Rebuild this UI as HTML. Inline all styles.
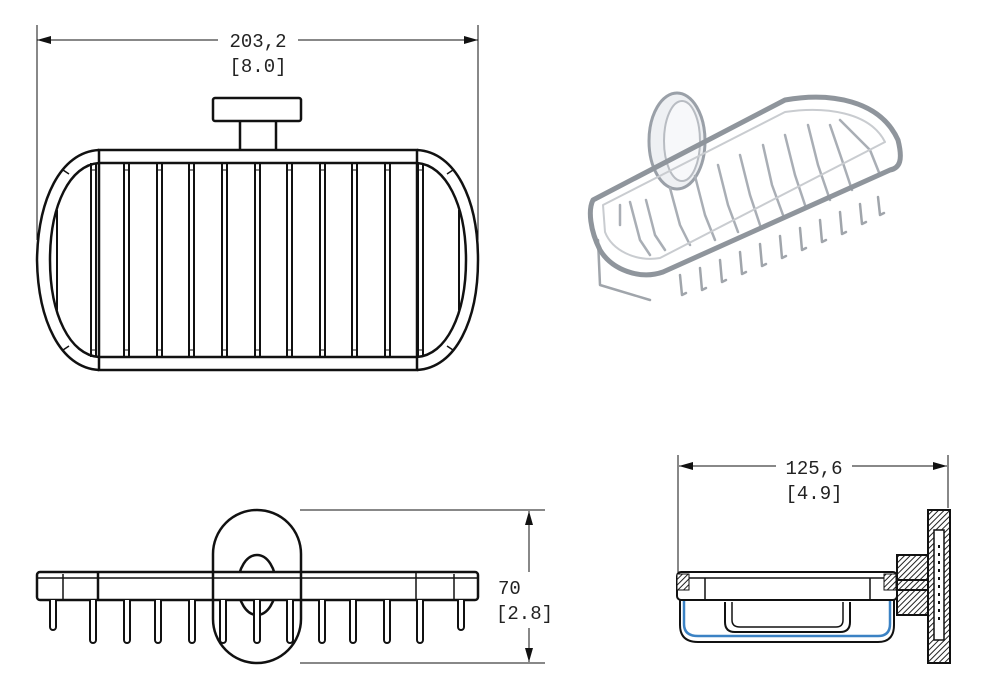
<!DOCTYPE html>
<html><head><meta charset="utf-8"><style>
html,body{margin:0;padding:0;background:#fff;width:1000px;height:688px;overflow:hidden}
svg{display:block}
text{font-family:"Liberation Mono","DejaVu Sans Mono",monospace;font-size:19px;fill:#222}
</style></head><body>
<svg width="1000" height="688" viewBox="0 0 1000 688" xmlns="http://www.w3.org/2000/svg">
<defs>
<marker id="ar" markerWidth="14" markerHeight="8" refX="14" refY="4" orient="auto" markerUnits="userSpaceOnUse"><path d="M0,0 L14,4 L0,8 Z" fill="#111"/></marker>
<pattern id="h" width="4" height="4" patternUnits="userSpaceOnUse" patternTransform="rotate(45)"><rect width="4" height="4" fill="#fff"/><line x1="0" y1="0" x2="0" y2="4" stroke="#222" stroke-width="2"/></pattern>
<g id="bar"><line x1="0" y1="163" x2="0" y2="357"/><line x1="5" y1="163" x2="5" y2="357"/><line x1="0" y1="170" x2="5" y2="170" stroke-width="1"/><line x1="0" y1="350" x2="5" y2="350" stroke-width="1"/></g>
</defs>

<!-- TOP VIEW dimension -->
<g stroke="#111" stroke-width="1" fill="none">
<line x1="37" y1="25" x2="37" y2="240"/>
<line x1="478" y1="25" x2="478" y2="240"/>
<line x1="218" y1="40" x2="37" y2="40" marker-end="url(#ar)"/>
<line x1="298" y1="40" x2="478" y2="40" marker-end="url(#ar)"/>
</g>
<text x="258" y="47" text-anchor="middle">203,2</text>
<text x="258" y="72" text-anchor="middle">[8.0]</text>

<!-- TOP VIEW drawing -->
<g stroke="#111" stroke-width="2.5" fill="none">
<rect x="213" y="98" width="88" height="23" rx="2"/>
<line x1="240" y1="121" x2="240" y2="150"/><line x1="276" y1="121" x2="276" y2="150"/>
<rect x="99" y="150" width="318" height="220"/>
<line x1="99" y1="163" x2="417" y2="163"/>
<line x1="99" y1="357" x2="417" y2="357"/>
<path d="M99,150 C60,152 38,200 37,260 C38,320 60,368 99,370"/>
<path d="M99,163 C70,165 50,205 50,260 C50,315 70,355 99,357"/>
<path d="M417,150 C456,152 478,200 478,260 C478,320 456,368 417,370"/>
<path d="M417,163 C446,165 466,205 466,260 C466,315 446,355 417,357"/>
<line x1="57" y1="210" x2="57" y2="310" stroke-width="2"/>
<line x1="459" y1="210" x2="459" y2="310" stroke-width="2"/>
<line x1="63" y1="170" x2="69" y2="174" stroke-width="1.5"/>
<line x1="63" y1="350" x2="69" y2="346" stroke-width="1.5"/>
<line x1="453" y1="170" x2="447" y2="174" stroke-width="1.5"/>
<line x1="453" y1="350" x2="447" y2="346" stroke-width="1.5"/>
</g>
<g stroke="#111" stroke-width="2" fill="none">
<use href="#bar" x="91"/><use href="#bar" x="124"/><use href="#bar" x="157"/><use href="#bar" x="189"/><use href="#bar" x="222"/><use href="#bar" x="255"/><use href="#bar" x="287"/><use href="#bar" x="320"/><use href="#bar" x="352"/><use href="#bar" x="385"/><use href="#bar" x="418"/>
</g>

<!-- PHOTO -->
<g fill="none" stroke-linecap="round" stroke-linejoin="round">
<ellipse cx="677" cy="141" rx="28" ry="48" fill="#eef0f3" stroke="#9aa0a8" stroke-width="3"/>
<ellipse cx="682" cy="141" rx="18" ry="40" fill="#f7f8fa" stroke="#b8bcc2" stroke-width="2"/>
<g stroke="#a9aeb5" stroke-width="2.5">
<path d="M620,205 L620,225 M630,202 L640,240 L650,255"/>
<path d="M646,200 L655,235 L665,250"/>
<path d="M670,188 L680,225 L690,245"/>
<path d="M695,176 L705,215 L715,240"/>
<path d="M718,165 L728,205 L738,232"/>
<path d="M740,155 L750,195 L760,225"/>
<path d="M763,145 L772,185 L783,215"/>
<path d="M785,135 L795,175 L806,208"/>
<path d="M808,125 L818,165 L830,200"/>
<path d="M830,125 L842,160 L852,190"/>
<path d="M840,120 L870,150 L880,175"/>
</g>
<g stroke="#a0a5ab" stroke-width="2.5">
<path d="M680,275 l2,20 l4,-2 M700,268 l2,22 l4,-2 M720,260 l2,22 l4,-2 M740,252 l2,22 l4,-2 M760,244 l2,22 l4,-2 M780,236 l2,22 l4,-2 M800,228 l2,22 l4,-2 M820,220 l2,22 l4,-2 M840,212 l2,22 l4,-2 M860,204 l2,20 l4,-2 M878,197 l2,18 l4,-2"/>
<path d="M598,240 L600,285 L650,300"/>
</g>
<path d="M593,200 L785,100 C830,92 880,100 898,140 C903,160 900,168 890,170 L663,272 C640,280 612,270 600,250 C590,230 588,210 593,200 Z" stroke="#8f959c" stroke-width="5"/>
<path d="M603,205 L785,112 C825,106 870,112 885,142 L660,258 C635,262 612,250 605,232 Z" stroke="#c9ccd0" stroke-width="2"/>
</g>

<!-- FRONT VIEW -->
<g stroke="#111" stroke-width="1" fill="none">
<line x1="300" y1="510" x2="545" y2="510"/>
<line x1="300" y1="663" x2="545" y2="663"/>
<line x1="529" y1="572" x2="529" y2="511" marker-end="url(#ar)"/>
<line x1="529" y1="628" x2="529" y2="662" marker-end="url(#ar)"/>
</g>
<text x="498" y="594">70</text>
<text x="496" y="619">[2.8]</text>
<g stroke="#111" stroke-width="2.5" fill="none">
<rect x="213" y="510" width="88" height="153" rx="44"/>
<ellipse cx="257" cy="585" rx="19" ry="30"/>
<rect x="37" y="572" width="441" height="28" rx="3" fill="#fff"/>
<line x1="38" y1="578" x2="477" y2="578" stroke-width="1.5"/>
<line x1="63" y1="574" x2="63" y2="600" stroke-width="1.5"/>
<line x1="98" y1="572" x2="98" y2="600"/>
<line x1="416" y1="572" x2="416" y2="600" stroke-width="1.5"/>
<line x1="454" y1="574" x2="454" y2="600" stroke-width="1.5"/>
<line x1="213" y1="572" x2="213" y2="600"/>
<line x1="301" y1="572" x2="301" y2="600"/>
</g>
<g stroke="#111" stroke-width="2" fill="#fff">
<path d="M50,600 v27 a3,3 0 0 0 6,0 v-27"/>
<path d="M90,600 v40 a3,3 0 0 0 6,0 v-40"/>
<path d="M124,600 v40 a3,3 0 0 0 6,0 v-40"/>
<path d="M155,600 v40 a3,3 0 0 0 6,0 v-40"/>
<path d="M189,600 v40 a3,3 0 0 0 6,0 v-40"/>
<path d="M220,600 v40 a3,3 0 0 0 6,0 v-40"/>
<path d="M254,600 v40 a3,3 0 0 0 6,0 v-40"/>
<path d="M287,600 v40 a3,3 0 0 0 6,0 v-40"/>
<path d="M319,600 v40 a3,3 0 0 0 6,0 v-40"/>
<path d="M350,600 v40 a3,3 0 0 0 6,0 v-40"/>
<path d="M384,600 v40 a3,3 0 0 0 6,0 v-40"/>
<path d="M417,600 v40 a3,3 0 0 0 6,0 v-40"/>
<path d="M458,600 v27 a3,3 0 0 0 6,0 v-27"/>
</g>

<!-- SIDE VIEW dimension -->
<g stroke="#111" stroke-width="1" fill="none">
<line x1="678" y1="455" x2="678" y2="575"/>
<line x1="948" y1="455" x2="948" y2="508"/>
<line x1="776" y1="466" x2="679" y2="466" marker-end="url(#ar)"/>
<line x1="852" y1="466" x2="947" y2="466" marker-end="url(#ar)"/>
</g>
<text x="814" y="474" text-anchor="middle">125,6</text>
<text x="814" y="499" text-anchor="middle">[4.9]</text>

<!-- SIDE VIEW drawing -->
<g stroke="#111" stroke-width="2" fill="none">
<path d="M680,600 V625 Q680,642 698,642 H878 Q894,642 894,625 V600"/>
<path d="M684,600 V624 Q684,636 698,636 H878 Q890,636 890,624 V600" stroke="#3b82c4" stroke-width="2.5"/>
<path d="M725,602 V622 Q725,632 735,632 H840 Q850,632 850,622 V602"/>
<path d="M732,602 V620 Q732,627 740,627 H836 Q843,627 843,620 V602" stroke-width="1.5"/>
<rect x="677" y="572" width="220" height="28" rx="4" fill="#fff"/>
<line x1="680" y1="578" x2="895" y2="578" stroke-width="1.5"/>
<line x1="705" y1="578" x2="705" y2="600" stroke-width="1.5"/>
<line x1="870" y1="578" x2="870" y2="600" stroke-width="1.5"/>
<rect x="677" y="574" width="12" height="16" fill="url(#h)" stroke-width="1"/>
<rect x="884" y="574" width="12" height="16" fill="url(#h)" stroke-width="1"/>
<rect x="897" y="555" width="32" height="60" fill="url(#h)"/>
<line x1="897" y1="580" x2="929" y2="580"/><line x1="897" y1="590" x2="929" y2="590"/>
<rect x="928" y="510" width="22" height="153" fill="url(#h)"/>
<rect x="934" y="530" width="10" height="110" fill="#fff" stroke-width="1.5"/>
<line x1="939" y1="545" x2="939" y2="625" stroke-dasharray="3 5" stroke-width="2"/>
</g>
</svg>
</body></html>
